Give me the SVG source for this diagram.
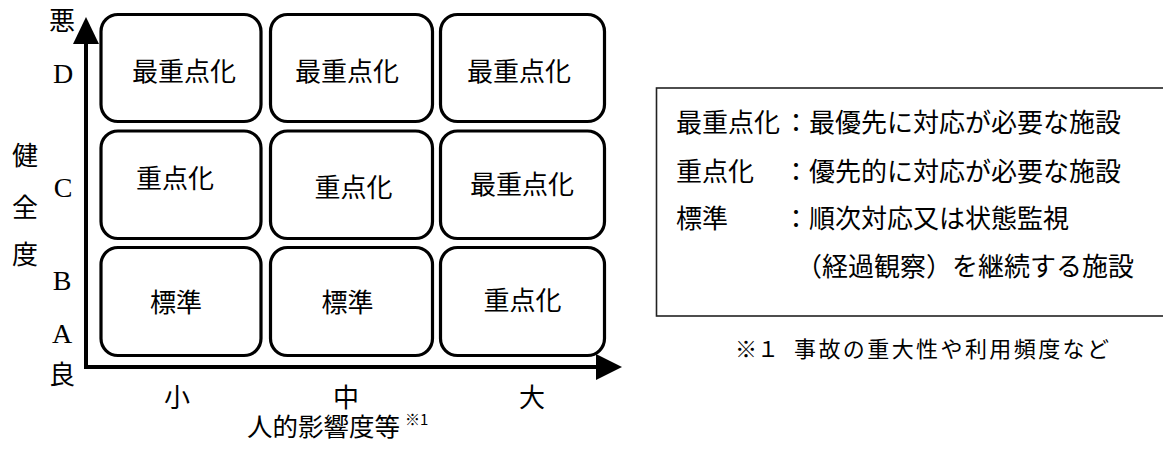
<svg xmlns="http://www.w3.org/2000/svg" width="1163" height="453" viewBox="0 0 1163 453">
<style>
.cell{fill:#fff;stroke:#000;stroke-width:3.2}
.jp{font-family:"Noto Sans CJK JP","Noto Sans",sans-serif;fill:#000}
.t26{font-size:26px}
.mid{text-anchor:middle}
.ser{font-family:"Liberation Serif","Times New Roman",serif;font-size:28px;fill:#000;text-anchor:middle}
</style>
<rect width="1163" height="453" fill="#fff"/>
<g id="axes">
<path d="M86,43 V367 H597" fill="none" stroke="#000" stroke-width="4"/>
<polygon points="86,17 73,44 99,44" fill="#000"/>
<polygon points="622,367 596,354 596,380" fill="#000"/>
</g>
<g id="axis-labels" class="jp t26 mid">
<text x="62" y="30">悪</text>
<text x="25" y="165">健</text>
<text x="25" y="217">全</text>
<text x="25" y="264">度</text>
<text x="62" y="384">良</text>
<text x="177" y="407">小</text>
<text x="346" y="407">中</text>
<text x="532" y="407">大</text>
</g>
<g id="grade-labels">
<text class="ser" x="63" y="83">D</text>
<text class="ser" x="63" y="197">C</text>
<text class="ser" x="62" y="290">B</text>
<text class="ser" x="62" y="343">A</text>
</g>
<g id="x-title">
<text class="jp" x="247" y="436" font-size="25.5">人的影響度等</text>
<text class="jp" x="405" y="425" font-size="15">※1</text>
</g>
<g id="r1c1"><rect class="cell" x="101" y="14.5" width="160" height="107" rx="17"/><text class="jp t26 mid" x="184" y="81">最重点化</text></g>
<g id="r1c2"><rect class="cell" x="270.5" y="14.5" width="162" height="107" rx="17"/><text class="jp t26 mid" x="347" y="81">最重点化</text></g>
<g id="r1c3"><rect class="cell" x="440.5" y="14.5" width="164" height="107" rx="17"/><text class="jp t26 mid" x="519" y="81">最重点化</text></g>
<g id="r2c1"><rect class="cell" x="101" y="131" width="160" height="107.5" rx="17"/><text class="jp t26 mid" x="175" y="188">重点化</text></g>
<g id="r2c2"><rect class="cell" x="270.5" y="131" width="162" height="107.5" rx="17"/><text class="jp t26 mid" x="353.5" y="197">重点化</text></g>
<g id="r2c3"><rect class="cell" x="440.5" y="131" width="164" height="107.5" rx="17"/><text class="jp t26 mid" x="522" y="194">最重点化</text></g>
<g id="r3c1"><rect class="cell" x="101" y="247.5" width="160" height="108" rx="17"/><text class="jp t26 mid" x="176" y="312">標準</text></g>
<g id="r3c2"><rect class="cell" x="270.5" y="247.5" width="162" height="108" rx="17"/><text class="jp t26 mid" x="347.5" y="312">標準</text></g>
<g id="r3c3"><rect class="cell" x="440.5" y="247.5" width="164" height="108" rx="17"/><text class="jp t26 mid" x="522.5" y="310">重点化</text></g>
<g id="legend">
<rect x="656.5" y="88" width="520" height="228" fill="none" stroke="#222" stroke-width="1.6"/>
<text class="jp t26" x="676" y="132">最重点化</text>
<text class="jp t26" x="783" y="132">：最優先に対応が必要な施設</text>
<text class="jp t26" x="676" y="181">重点化</text>
<text class="jp t26" x="783" y="181">：優先的に対応が必要な施設</text>
<text class="jp t26" x="676" y="228">標準</text>
<text class="jp t26" x="783" y="228">：順次対応又は状態監視</text>
<text class="jp t26" x="796" y="276">（経過観察）を継続する施設</text>
</g>
<g id="footnote">
<text class="jp" x="735" y="357" font-size="22">※１</text>
<text class="jp" x="794" y="357" font-size="22" textLength="315" lengthAdjust="spacing">事故の重大性や利用頻度など</text>
</g>
</svg>
